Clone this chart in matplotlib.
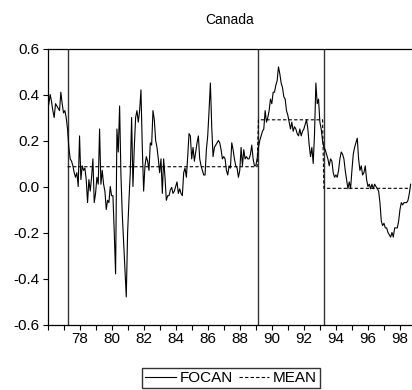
import matplotlib
matplotlib.use("Agg")
import matplotlib.pyplot as plt
import matplotlib.ticker as ticks
import numpy as np

# monthly series, 1976:01 - 1998:09
start_year = 1976
focan = [
    0.33, 0.36, 0.40, 0.37, 0.33, 0.30, 0.36, 0.35, 0.34, 0.33, 0.41, 0.36,          # 1976
    0.32, 0.33, 0.30, 0.25, 0.17, 0.12, 0.11, 0.09, 0.06, 0.04, 0.06, 0.00,          # 1977
    0.22, 0.03, 0.09, 0.07, 0.08, 0.03, -0.07, 0.03, -0.02, 0.04, 0.12, -0.07,       # 1978
    -0.03, 0.04, 0.01, 0.25, 0.01, 0.07, 0.01, -0.02, -0.10, -0.06, -0.07, 0.00,     # 1979
    -0.04, -0.04, -0.20, -0.38, 0.25, 0.15, 0.35, 0.05, -0.12, -0.24, -0.36, -0.48,  # 1980
    -0.20, -0.06, 0.06, 0.30, 0.00, 0.17, 0.30, 0.33, 0.28, 0.33, 0.42, 0.17,        # 1981
    -0.02, 0.09, 0.13, 0.11, 0.07, 0.19, 0.18, 0.33, 0.29, 0.20, 0.17, 0.12,         # 1982
    0.06, 0.12, -0.03, 0.12, 0.04, -0.06, -0.04, -0.04, -0.015, -0.004, -0.03, -0.02,  # 1983
    0.00, 0.02, -0.03, -0.01, -0.03, -0.04, 0.06, 0.08, 0.04, 0.13, 0.23, 0.22,      # 1984
    0.12, 0.17, 0.11, 0.15, 0.19, 0.22, 0.12, 0.09, 0.07, 0.05, 0.05, 0.16,          # 1985
    0.22, 0.33, 0.45, 0.26, 0.13, 0.17, 0.18, 0.19, 0.20, 0.19, 0.16, 0.12,          # 1986
    0.13, 0.12, 0.07, 0.05, 0.09, 0.08, 0.19, 0.16, 0.12, 0.09, 0.08, 0.04,          # 1987
    0.07, 0.17, 0.09, 0.16, 0.12, 0.13, 0.12, 0.12, 0.14, 0.18, 0.12, 0.09,          # 1988
    0.09, 0.12, 0.17, 0.20, 0.22, 0.24, 0.25, 0.33, 0.28, 0.30, 0.33, 0.38,          # 1989
    0.36, 0.41, 0.41, 0.44, 0.46, 0.52, 0.49, 0.45, 0.43, 0.39, 0.38, 0.33,          # 1990
    0.31, 0.28, 0.25, 0.28, 0.24, 0.26, 0.25, 0.23, 0.22, 0.25, 0.22, 0.24,          # 1991
    0.25, 0.27, 0.29, 0.25, 0.18, 0.13, 0.17, 0.10, 0.23, 0.45, 0.36, 0.38,          # 1992
    0.28, 0.25, 0.20, 0.17, 0.16, 0.14, 0.12, 0.09, 0.12, 0.11, 0.06, 0.04,          # 1993
    0.05, 0.04, 0.07, 0.12, 0.15, 0.14, 0.12, 0.07, 0.03, -0.01, 0.02, -0.01,        # 1994
    0.07, 0.14, 0.17, 0.19, 0.21, 0.12, 0.07, 0.09, 0.05, 0.06, 0.09, 0.03,          # 1995
    0.00, 0.01, -0.01, 0.01, -0.01, 0.01, 0.00, -0.01, -0.02, -0.07, -0.15, -0.17,   # 1996
    -0.16, -0.18, -0.18, -0.20, -0.21, -0.22, -0.20, -0.22, -0.18, -0.18, -0.18, -0.15,  # 1997
    -0.10, -0.07, -0.08, -0.07, -0.07, -0.07, -0.06, -0.03, 0.01,                    # 1998
]

# regime breaks (month index from 1976:01) and the mean of each regime
breaks = [15, 158, 207]
regime_means = [0.086, 0.29, -0.008]

y_ticks = [-0.6, -0.4, -0.2, 0.0, 0.2, 0.4, 0.6]


def year_label(value, pos):
    year = int(round(value))
    if year % 2 or year <= start_year:
        return ""
    return "%02d" % (year % 100)


def plotCanada():
    n = len(focan)
    dates = start_year + np.arange(n) / 12.0

    mean = np.full(n, np.nan)
    bounds = breaks + [n]
    for i, m in enumerate(regime_means):
        mean[bounds[i]:bounds[i + 1]] = m

    plt.rcParams["font.family"] = ["Liberation Sans", "DejaVu Sans"]
    fig = plt.figure(figsize=(4.12, 3.9), dpi=100)
    ax = fig.add_axes([47.5 / 412, 1 - 324.5 / 390, 1 - 47.5 / 412, 276 / 390])

    for b in breaks:
        ax.axvline(dates[b], color="#333333", lw=1.0)
    ax.plot(dates, focan, color="black", lw=0.8, label="FOCAN")
    ax.plot(dates, mean, color="black", lw=0.8, linestyle=(0, (3, 2)), label="MEAN")

    ax.set_xlim(start_year, start_year + n / 12.0)
    ax.set_ylim(-0.6, 0.6)
    ax.set_yticks(y_ticks)
    ax.yaxis.set_major_formatter(ticks.FormatStrFormatter("%.1f"))
    ax.xaxis.set_major_locator(ticks.MultipleLocator(1))
    ax.xaxis.set_major_formatter(ticks.FuncFormatter(year_label))
    ax.tick_params(direction="out", length=3.5, width=0.8, labelsize=11, pad=2)
    ax.spines["right"].set_visible(False)
    for side in ("left", "top", "bottom"):
        ax.spines[side].set_linewidth(0.9)
    ax.set_title("Canada", fontsize=10, pad=18)

    fig.legend(loc="center", bbox_to_anchor=(231 / 412, 1 - 378 / 390), ncol=2,
               fontsize=11, frameon=True, fancybox=False, edgecolor="black",
               handlelength=2.0, handletextpad=0.25, columnspacing=0.4,
               borderpad=0.2, borderaxespad=0)
    fig.savefig("out.png", dpi=100)


def main():
    plotCanada()


if __name__ == "__main__":
    main()
